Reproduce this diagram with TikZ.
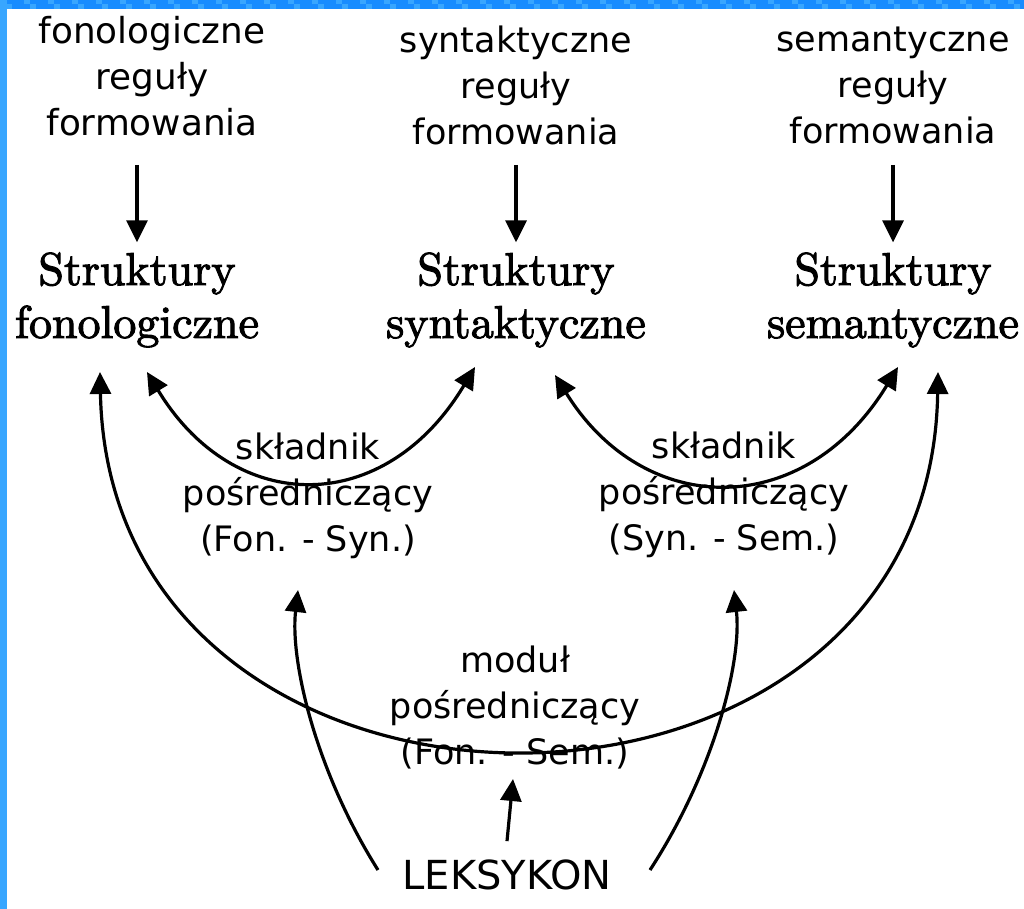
\documentclass[tikz,border=0pt]{standalone}
\usepackage{fontspec}
\newfontfamily\dv{DejaVu Sans}
\newfontfamily\lmten[FakeBold=2.2]{lmroman10-regular.otf}
\usetikzlibrary{arrows.meta}
\definecolor{bardark}{RGB}{24,140,255}
\definecolor{barlight}{RGB}{56,166,255}
\begin{document}
\begin{tikzpicture}[x=1pt,y=-1pt,
  tip/.tip={Triangle[length=22pt,width=21pt]},
  arr/.style={line width=3.2pt,-tip},
  darr/.style={line width=3.2pt,tip-tip},
  lab/.style={font=\dv\fontsize{35}{46}\selectfont,align=center,inner sep=0pt},
  mid/.style={font=\dv\fontsize{35}{46}\selectfont,align=center,inner sep=0pt},
  st/.style={font=\lmten\fontsize{46}{53}\selectfont,align=center,inner sep=0pt},
]
\useasboundingbox (0,0) rectangle (1024,909);
\fill[white] (0,0) rectangle (1024,909);
% border
\fill[bardark] (0,0) rectangle (1024,9);
\foreach \i in {0,...,85}{
  \pgfmathtruncatemacro{\odd}{mod(\i,2)}
  \ifnum\odd=0
    \fill[barlight] (\i*12,0) rectangle (\i*12+6,4.5);
  \else
    \fill[barlight] (\i*12-6,4.5) rectangle (\i*12,9);
  \fi
}
\fill[barlight] (0,0) rectangle (7,909);

% top labels
\node[lab,font=\dv\fontsize{35.8}{46}\selectfont] (t1) at (152,76) {fonologiczne\\reguły\\formowania};
\node[lab] (t2) at (516,85) {syntaktyczne\\reguły\\formowania};
\node[lab] (t3) at (893,85) {semantyczne\\reguły\\formowania};

% structures
\node[st] (s1) at (137,300) {Struktury\\fonologiczne};
\node[st] (s2) at (516,300) {Struktury\\syntaktyczne};
\node[st] (s3) at (893,300) {Struktury\\semantyczne};

% down arrows
\coordinate (d1) at (137,165);
\coordinate (d2) at (516,165);
\coordinate (d3) at (893,165);
\draw[arr] (d1) -- ([yshift=10pt]d1 |- s1.north);
\draw[arr] (d2) -- ([yshift=10pt]d2 |- s2.north);
\draw[arr] (d3) -- ([yshift=10pt]d3 |- s3.north);

% mediating labels
\node[mid] (m1) at (308,496) {składnik\\pośredniczący\\(Fon. - Syn.)};
\node[mid] (m2) at (724,495) {składnik\\pośredniczący\\(Syn. - Sem.)};
\node[mid] (m3) at (515,708) {moduł\\pośredniczący\\(Fon. - Sem.)};
\node[font=\dv\fontsize{40}{46}\selectfont,inner sep=0pt,anchor=base] (lex) at (507,889) {LEKSYKON};

% end points
\coordinate (a1) at (147,372);
\coordinate (a2) at (475,367);
\coordinate (b1) at (555,375);
\coordinate (b2) at (898,367);
\coordinate (c1) at (100,372);
\coordinate (c2) at (938,372);
\coordinate (l1) at (378,870);
\coordinate (l2) at (298,590);
\coordinate (r1) at (650,870);
\coordinate (r2) at (734,590);
\coordinate (lt) at (513,779);

\draw[darr] (a1) .. controls (235,517) and (385,517) .. (a2);
\draw[darr] (b1) .. controls (645,520) and (805,520) .. (b2);
\draw[darr] (c1) .. controls (110,873) and (930,873) .. (c2);
\draw[arr] (l1) .. controls (315,770) and (290,660) .. (l2);
\draw[arr] (r1) .. controls (715,770) and (742,660) .. (r2);
\draw[arr] ([yshift=18pt]lex.north) -- (lt);
\end{tikzpicture}
\end{document}
